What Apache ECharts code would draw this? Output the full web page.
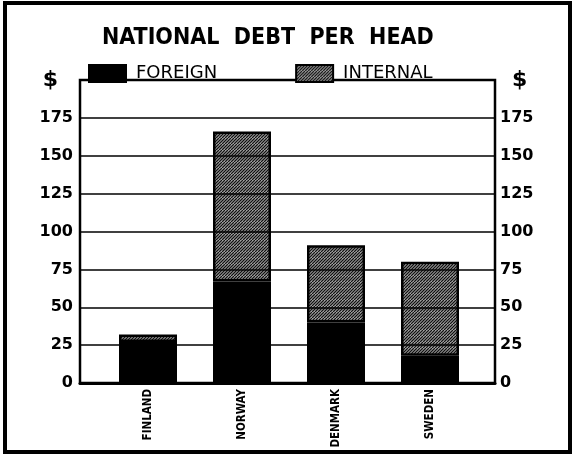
<!DOCTYPE html>
<html>
<head>
<meta charset="utf-8">
<script src="https://cdn.jsdelivr.net/npm/echarts@6/dist/echarts.min.js"></script>
<style>
  html, body { margin: 0; padding: 0; background: #fff; }
  #chart { width: 575px; height: 456px; }
</style>
</head>
<body>
<div id="chart"></div>
<script>
// data ($ per head)
const countries = ['FINLAND', 'NORWAY', 'DENMARK', 'SWEDEN']
const foreign = [27, 67, 40, 18]
const internal = [5, 99, 51, 62]

// hatched fill for the internal debt
const makeHatch = () => {
  const c = document.createElement('canvas')
  c.width = 6
  c.height = 6
  const ctx = c.getContext('2d')
  ctx.fillStyle = '#d0d0d0'
  ctx.fillRect(0, 0, 6, 6)
  ctx.strokeStyle = '#111'
  ctx.lineWidth = 1.4
  for (let k = -6; k <= 12; k += 3) {
    ctx.beginPath()
    ctx.moveTo(k - 6, 6)
    ctx.lineTo(k, 0)
    ctx.stroke()
  }
  return c
}
const hatch = { image: makeHatch(), repeat: 'repeat' }

const chart = echarts.init(document.getElementById('chart'))

const yBase = {
  type: 'value',
  min: 0,
  max: 200,
  interval: 25,
  axisLine: { show: false },
  axisTick: { show: false }
}
const tickLabel = {
  fontFamily: 'DejaVu Sans',
  fontWeight: 'bold',
  fontSize: 16,
  color: '#000',
  formatter: v => v === 200 ? '{d|$}' : String(v)
}

const option = {
  animation: false,
  backgroundColor: '#fff',
  title: {
    text: 'NATIONAL  DEBT  PER  HEAD',
    left: 97,
    top: 22,
    textStyle: {
      fontFamily: 'DejaVu Sans Condensed',
      fontWeight: 'bold',
      fontSize: 23,
      color: '#000'
    }
  },
  legend: {
    left: 88,
    top: 64,
    padding: 0,
    itemWidth: 37,
    itemHeight: 17,
    itemGap: 78,
    icon: 'rect',
    textStyle: {
      fontFamily: 'DejaVu Sans',
      fontSize: 18,
      color: '#000',
      padding: [0, 0, 0, 5]
    },
    data: ['FOREIGN', 'INTERNAL']
  },
  graphic: [{
    type: 'rect',
    shape: { x: 5, y: 3, width: 565, height: 449 },
    style: { fill: 'none', stroke: '#000', lineWidth: 4 },
    silent: true
  }],
  // grid 0: frame, gridlines and dollar scales; grid 1: the bars
  grid: [
    { left: 80, right: 80, top: 80, bottom: 73, show: true, borderColor: '#000', borderWidth: 2.5, z: 4 },
    { left: 101, right: 98, top: 80, bottom: 73 }
  ],
  xAxis: [
    {
      gridIndex: 0,
      type: 'value',
      min: 0,
      max: 1,
      z: 4,
      splitLine: { show: false },
      axisTick: { show: false },
      axisLabel: { show: false },
      axisLine: { lineStyle: { color: '#000', width: 3 } }
    },
    {
      gridIndex: 1,
      type: 'category',
      data: countries,
      axisLine: { show: false },
      axisTick: { show: false },
      axisLabel: {
        rotate: 90,
        margin: 6,
        fontFamily: 'DejaVu Sans Condensed',
        fontWeight: 'bold',
        fontSize: 11.5,
        color: '#000'
      }
    }
  ],
  yAxis: [
    Object.assign({}, yBase, {
      gridIndex: 0,
      position: 'left',
      z: 4,
      splitLine: { lineStyle: { color: '#000', width: 1.5 } },
      axisLabel: Object.assign({}, tickLabel, {
        margin: 7,
        rich: { d: { fontSize: 22, fontWeight: 'bold', color: '#000', padding: [0, 15, 0, 0] } }
      })
    }),
    Object.assign({}, yBase, {
      gridIndex: 0,
      position: 'right',
      z: 4,
      splitLine: { show: false },
      axisLabel: Object.assign({}, tickLabel, {
        margin: 5,
        rich: { d: { fontSize: 22, fontWeight: 'bold', color: '#000', padding: [0, 0, 0, 12] } }
      })
    }),
    Object.assign({}, yBase, {
      gridIndex: 1,
      splitLine: { show: false },
      axisLabel: { show: false }
    })
  ],
  series: [
    {
      name: 'FOREIGN',
      type: 'bar',
      stack: 'debt',
      xAxisIndex: 1,
      yAxisIndex: 2,
      barWidth: 58,
      itemStyle: { color: '#000', borderColor: '#000', borderWidth: 1.5 },
      data: foreign
    },
    {
      name: 'INTERNAL',
      type: 'bar',
      stack: 'debt',
      xAxisIndex: 1,
      yAxisIndex: 2,
      barWidth: 58,
      itemStyle: { color: hatch, borderColor: '#000', borderWidth: 2.5 },
      data: internal
    }
  ]
}

chart.setOption(option)
</script>
</body>
</html>
